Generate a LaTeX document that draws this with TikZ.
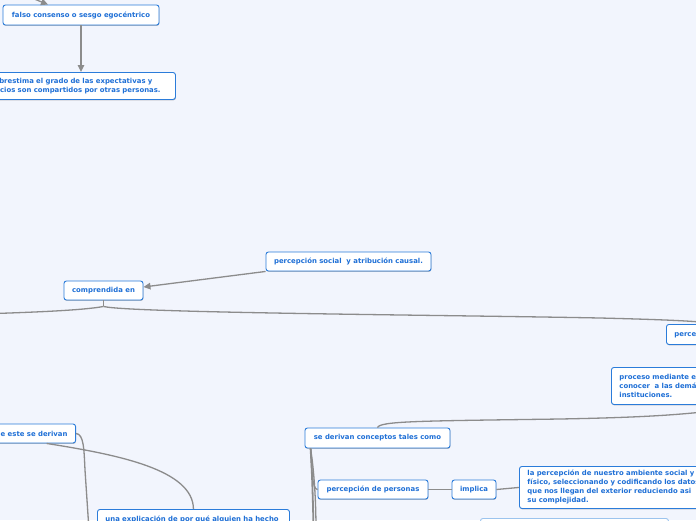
\documentclass[tikz,border=0pt]{standalone}
\usepackage{fontspec}
\newfontfamily\mapfont{DejaVu Sans}
\usetikzlibrary{arrows.meta,shadows}
\definecolor{bgc}{HTML}{F2F5FD}
\definecolor{bordc}{HTML}{2B7CDA}
\definecolor{txtc}{HTML}{1E6FD6}
\definecolor{linec}{HTML}{8C8C8C}
\definecolor{faintc}{HTML}{9CC4EE}
\tikzset{
  mapbox/.style={draw=bordc, fill=white, line width=0.9pt, rounded corners=2.5pt,
    text=txtc, font=\mapfont\bfseries\fontsize{6.9}{9}\selectfont,
    inner xsep=8pt, inner ysep=3pt, minimum height=19pt,
    drop shadow={shadow xshift=0.4pt, shadow yshift=-0.9pt, opacity=0.25, fill=black}},
  conn/.style={draw=linec, line width=1.3pt},
  arr/.style={conn, -{Triangle[length=7pt,width=6.5pt]}},
}
\begin{document}
\begin{tikzpicture}[x=1pt,y=-1pt]
\fill[bgc] (0,0) rectangle (696,520);
\useasboundingbox (0,0) rectangle (696,520);
\clip (0,0) rectangle (696,520);

% nodes
\node[mapbox, minimum width=156pt, minimum height=20pt] (n1) at (81,15) {falso consenso o sesgo egocéntrico};
\node[mapbox, anchor=north west, minimum height=27pt, align=left, text width=177pt] (n2) at (-18,72)
  {sobrestima el grado de las expectativas y\\juicios son compartidos por otras personas.};
\node[mapbox, minimum width=165pt] (n3) at (348.5,261.5) {percepción social\ \ y atribución causal.};
\node[mapbox, minimum width=79pt] (n4) at (103.5,290.5) {comprendida en};
\node[mapbox, anchor=north west, minimum height=20pt] (n5) at (666,324) {percepción social};
\node[mapbox, anchor=north west, minimum height=37pt, align=left, text width=190pt] (n6) at (611,367)
  {proceso mediante el cual llegamos a\\conocer\ \ a las demás personas e\\instituciones.};
\node[mapbox, minimum width=145pt, minimum height=20pt] (n7) at (377.5,438) {se derivan conceptos tales como};
\node[mapbox, minimum width=110pt] (n8) at (373,489.5) {percepción de personas};
\node[mapbox, minimum width=44pt, inner xsep=2pt] (n9) at (474,489.5) {implica};
\node[mapbox, anchor=north west, minimum height=42pt, align=left, text width=195pt] (n10) at (519,466)
  {la percepción de nuestro ambiente social y\\físico, seleccionando y codificando los datos\\que nos llegan del exterior reduciendo asi\\su complejidad.};
\node[mapbox, anchor=east, minimum height=19pt] (n11) at (76,433.5) {de este se derivan};
\node[mapbox, anchor=north west, minimum width=192pt, minimum height=30pt, align=left, text width=176pt] (n12) at (97,509)
  {una explicación de por qué alguien ha hecho\\algo};
\node[draw=faintc, fill=white, line width=0.9pt, rounded corners=2.5pt, anchor=north west,
  minimum width=188pt, minimum height=20pt] (n13) at (480,518) {};

% free ends
\coordinate (c0) at (22,-6);
\coordinate (cL) at (-5,313.5);
\coordinate (cR) at (720,410);
\coordinate (cB1) at (313.5,530);
\coordinate (cB2) at (316,530);
\coordinate (cB3) at (89,530);

% connectors
\draw[arr] (c0) -- ([xshift=-33pt]n1.north);
\draw[arr] (n1.south) -- (n1.south |- n2.north);
\draw[arr] (n3.south west) -- ([yshift=3.5pt]n4.east);
\draw[conn] (n4.south) -- ++(0,6) coordinate (s4);
\draw[conn] (s4) .. controls (85,310) and (40,312) .. (cL);
\draw[conn] (s4) .. controls (130,313) and (450,315) .. (600,318) .. controls (660,319.5) and (700,321) .. ([xshift=10pt]n5.north);
\draw[conn] (n7.north) .. controls (380,421) and (420,421) .. (560,419) .. controls (640,417.5) and (680,415) .. (cR);
\draw[conn, line width=1.8pt] ([xshift=6pt]n7.south west) .. controls (312,470) and (313,500) .. (cB1);
\draw[conn] ([xshift=6pt]n7.south west) .. controls (314,470) and (316,500) .. (cB2);
\draw[conn] ([xshift=6pt]n7.south west) .. controls (312,470) and (312,489.5) .. (n8.west);
\draw[conn] (n8.east) -- (n9.west);
\draw[conn] (n9.east) -- (n10.west);
\draw[conn] (n11.east) .. controls (84,434) and (84,450) .. (85,470) -- (cB3);
\draw[conn] ([xshift=15pt]n11.south) .. controls (120,455) and (193,470) .. (n12.north);
\end{tikzpicture}
\end{document}
